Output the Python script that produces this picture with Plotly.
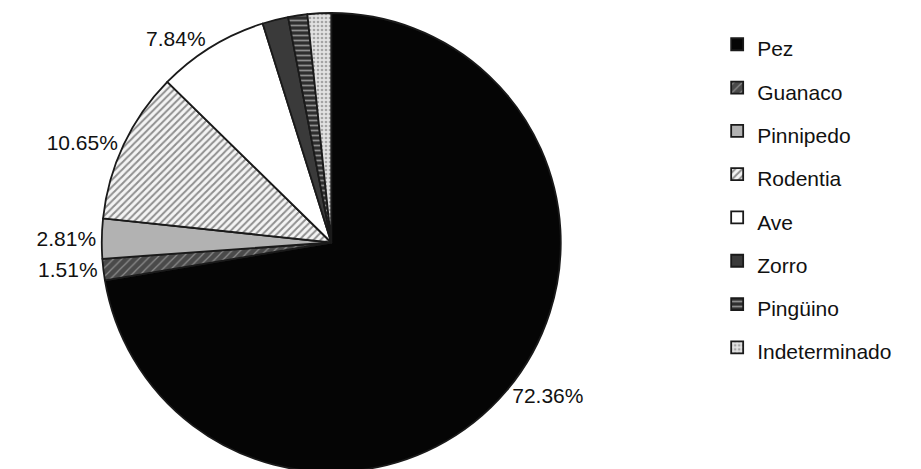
import plotly.graph_objects as go

categories = ["Pez", "Guanaco", "Pinnipedo", "Rodentia", "Ave", "Zorro", "Pingüino", "Indeterminado"]
values = [72.36, 1.51, 2.81, 10.65, 7.84, 1.82, 1.35, 1.66]
shown_labels = ["72.36%", "1.51%", "2.81%", "10.65%", "7.84%", "", "", ""]

fill_colors = ["#050505", "#4a4a4a", "#b2b2b2", "#f4f4f4", "#ffffff", "#3a3a3a", "#2e2e2e", "#e2e2e2"]
pattern_shapes = ["", "/", "", "/", "", "", "-", "."]
pattern_fg = ["#000", "#d0d0d0", "#000", "#2a2a2a", "#000", "#000", "#f0f0f0", "#666666"]
pattern_size = [8, 6, 8, 5, 8, 8, 5, 4]
pattern_solidity = [0.3, 0.2, 0.3, 0.4, 0.3, 0.3, 0.35, 0.35]

legend_names = ['<span style="font-size:21px">%s</span>' % c for c in categories]

fig = go.Figure(go.Pie(
    labels=legend_names,
    values=values,
    text=shown_labels,
    textinfo="text",
    textposition="outside",
    sort=False,
    direction="clockwise",
    rotation=0,
    marker=dict(
        colors=fill_colors,
        line=dict(color="#1a1a1a", width=1.8),
        pattern=dict(shape=pattern_shapes, fgcolor=pattern_fg, size=pattern_size,
                     solidity=pattern_solidity, fillmode="overlay"),
    ),
    outsidetextfont=dict(family="Liberation Sans, Arial", size=21, color="#111"),
    domain=dict(x=[0.097, 0.605], y=[0.0, 1.0]),
    showlegend=True,
    hoverinfo="percent",
))

fig.update_layout(
    width=921, height=469,
    margin=dict(l=0, r=0, t=0, b=0),
    paper_bgcolor="white",
    plot_bgcolor="white",
    legend=dict(
        x=0.77, y=0.99, xanchor="left", yanchor="top",
        font=dict(family="Liberation Sans, Arial", size=31, color="#111"),
        itemwidth=30,
        traceorder="normal",
    ),
)

fig.write_html("out.html")
